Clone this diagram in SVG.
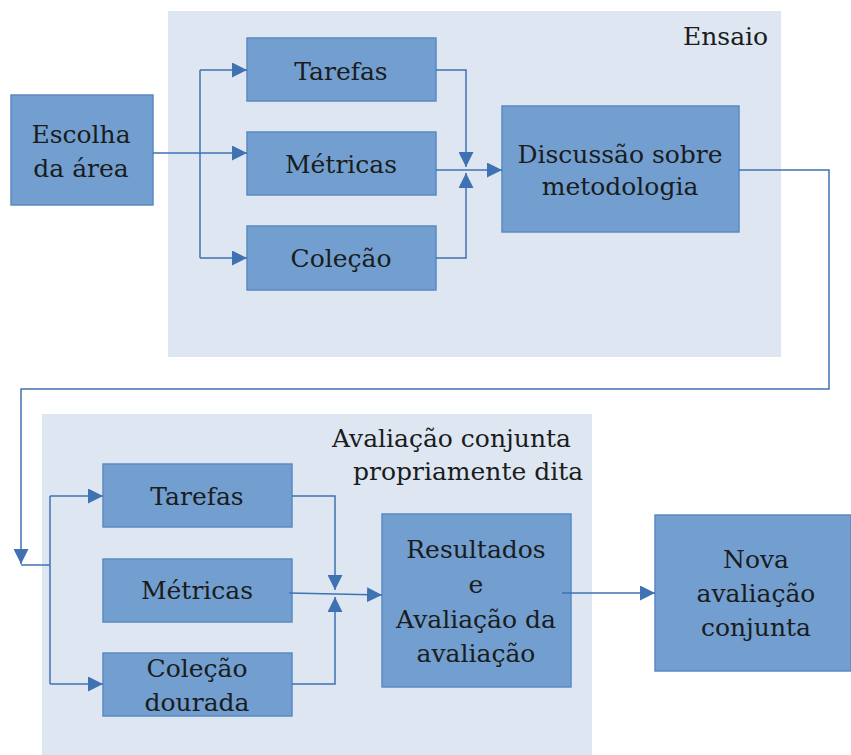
<svg xmlns="http://www.w3.org/2000/svg" width="851" height="755" viewBox="0 0 851 755">
<style>
.region{fill:#dee7f1;stroke:none}
.box{fill:#729fcf;stroke:#5b8ac3;stroke-width:1.5}
.t{font-family:"DejaVu Serif",serif;font-size:25px;fill:#1a1c20;text-anchor:middle}
.ts{font-family:"DejaVu Serif",serif;font-size:25px;fill:#1a1c20}
.c{fill:none;stroke:#3f72b3;stroke-width:1.5}
</style>
<defs>
<marker id="ah" viewBox="0 0 15 15" refX="15" refY="7.5" markerWidth="15" markerHeight="15" orient="auto" markerUnits="userSpaceOnUse">
<path d="M0,0 L15,7.5 L0,15 z" fill="#3f72b3"/>
</marker>
</defs>
<g id="regions">
<rect class="region" x="168" y="11" width="613" height="346"/>
<rect class="region" x="42" y="414" width="550" height="341"/>
<text class="ts" x="683" y="45">Ensaio</text>
<text class="ts" x="332" y="447">Avaliação conjunta</text>
<text class="ts" x="353" y="480">propriamente dita</text>
</g>
<g id="escolha">
<rect class="box" x="11" y="95" width="142" height="110"/>
<text class="t" x="81" y="143">Escolha</text>
<text class="t" x="81" y="177">da área</text>
</g>
<g id="tarefas1">
<rect class="box" x="247" y="38" width="189" height="63"/>
<text class="t" x="341" y="80">Tarefas</text>
</g>
<g id="metricas1">
<rect class="box" x="247" y="132" width="189" height="63"/>
<text class="t" x="341" y="173">Métricas</text>
</g>
<g id="colecao1">
<rect class="box" x="247" y="226" width="189" height="64"/>
<text class="t" x="341" y="267">Coleção</text>
</g>
<g id="discussao">
<rect class="box" x="502" y="106" width="237" height="126"/>
<text class="t" x="620" y="163">Discussão sobre</text>
<text class="t" x="620" y="195">metodologia</text>
</g>
<g id="tarefas2">
<rect class="box" x="103" y="464" width="189" height="63"/>
<text class="t" x="197" y="505">Tarefas</text>
</g>
<g id="metricas2">
<rect class="box" x="103" y="559" width="189" height="63"/>
<text class="t" x="197" y="599">Métricas</text>
</g>
<g id="colecao2">
<rect class="box" x="103" y="653" width="189" height="63"/>
<text class="t" x="197" y="677">Coleção</text>
<text class="t" x="197" y="711">dourada</text>
</g>
<g id="resultados">
<rect class="box" x="382" y="514" width="189" height="173"/>
<text class="t" x="476" y="558">Resultados</text>
<text class="t" x="476" y="593">e</text>
<text class="t" x="476" y="628">Avaliação da</text>
<text class="t" x="476" y="662">avaliação</text>
</g>
<g id="nova">
<rect class="box" x="655" y="515" width="196" height="156"/>
<text class="t" x="756" y="568">Nova</text>
<text class="t" x="756" y="602">avaliação</text>
<text class="t" x="756" y="636">conjunta</text>
</g>
<g id="connectors">
<path class="c" d="M153,153 H247" marker-end="url(#ah)"/>
<path class="c" d="M200,70 V258"/>
<path class="c" d="M200,70 H247" marker-end="url(#ah)"/>
<path class="c" d="M200,258 H247" marker-end="url(#ah)"/>
<path class="c" d="M436,70 H466 V167" marker-end="url(#ah)"/>
<path class="c" d="M436,258 H466 V173" marker-end="url(#ah)"/>
<path class="c" d="M436,170 H502" marker-end="url(#ah)"/>
<path class="c" d="M739,170 H829 V389 H21 V564" marker-end="url(#ah)"/>
<path class="c" d="M21,565 H50"/>
<path class="c" d="M50,496 V684"/>
<path class="c" d="M50,496 H103" marker-end="url(#ah)"/>
<path class="c" d="M50,684 H103" marker-end="url(#ah)"/>
<path class="c" d="M292,496 H335 V590" marker-end="url(#ah)"/>
<path class="c" d="M292,684 H335 V597" marker-end="url(#ah)"/>
<path class="c" d="M289,593 L382,595" marker-end="url(#ah)"/>
<path class="c" d="M562,593 H655" marker-end="url(#ah)"/>
</g>
</svg>
